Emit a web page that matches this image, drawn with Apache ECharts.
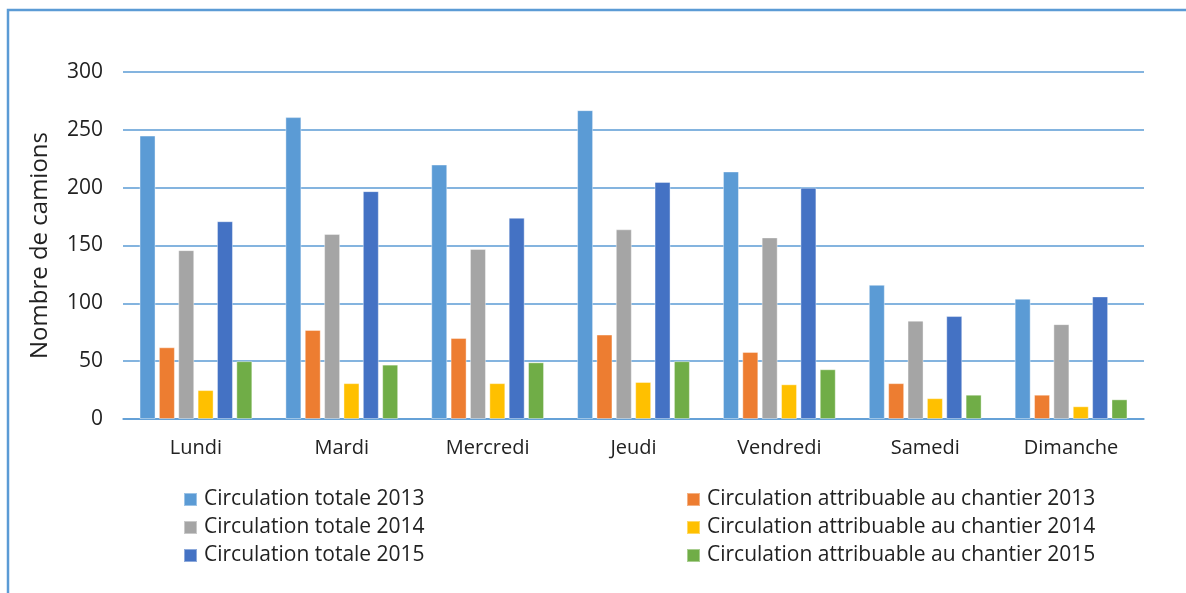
<!DOCTYPE html>
<html>
<head>
<meta charset="utf-8">
<script src="https://cdn.jsdelivr.net/npm/echarts@6/dist/echarts.min.js"></script>
<style>
  html, body { margin: 0; padding: 0; background: #fff; }
  #chart { width: 1186px; height: 593px; }
</style>
</head>
<body>
<div id="chart"></div>
<script>
const days = ['Lundi', 'Mardi', 'Mercredi', 'Jeudi', 'Vendredi', 'Samedi', 'Dimanche'];

const total2013 = [245, 261, 220, 267, 214, 116, 104];
const chantier2013 = [62, 77, 70, 73, 58, 31, 21];
const total2014 = [146, 160, 147, 164, 157, 85, 82];
const chantier2014 = [25, 31, 31, 32, 30, 18, 11];
const total2015 = [171, 197, 174, 205, 200, 89, 106];
const chantier2015 = [50, 47, 49, 50, 43, 21, 17];

const yTicks = { min: 0, max: 300, interval: 50 };

const font = 'Open Sans';
const textColor = '#222';
const lineBlue = '#5b9bd5';

const seriesDefs = [
  ['Circulation totale 2013', total2013, '#5b9bd5'],
  ['Circulation attribuable au chantier 2013', chantier2013, '#ed7d31'],
  ['Circulation totale 2014', total2014, '#a5a5a5'],
  ['Circulation attribuable au chantier 2014', chantier2014, '#ffc000'],
  ['Circulation totale 2015', total2015, '#4472c4'],
  ['Circulation attribuable au chantier 2015', chantier2015, '#70ad47']
];

const chart = echarts.init(document.getElementById('chart'));

const legendBase = {
  orient: 'vertical',
  top: 484,
  itemWidth: 13,
  itemHeight: 13,
  itemGap: 7,
  icon: 'rect',
  textStyle: { fontFamily: font, fontSize: 21, lineHeight: 21, color: textColor, padding: [0, 0, 0, 2] }
};

chart.setOption({
  animation: false,
  color: seriesDefs.map(s => s[2]),
  grid: { left: 123, right: 42, top: 72, bottom: 174 },
  graphic: [{
    type: 'rect',
    shape: { x: 8, y: 10, width: 1200, height: 620 },
    style: { fill: 'none', stroke: lineBlue, lineWidth: 2.5 },
    silent: true
  }],
  legend: [
    Object.assign({}, legendBase, { left: 178, data: [seriesDefs[0][0], seriesDefs[2][0], seriesDefs[4][0]] }),
    Object.assign({}, legendBase, { left: 681, data: [seriesDefs[1][0], seriesDefs[3][0], seriesDefs[5][0]] })
  ],
  xAxis: {
    type: 'category',
    data: days,
    axisLine: { lineStyle: { color: lineBlue, width: 1.5 } },
    axisTick: { show: false },
    axisLabel: { fontFamily: font, fontSize: 20, color: textColor, margin: 19 }
  },
  yAxis: {
    type: 'value',
    min: yTicks.min,
    max: yTicks.max,
    interval: yTicks.interval,
    name: 'Nombre de camions',
    nameLocation: 'middle',
    nameRotate: 90,
    nameGap: 71,
    nameTextStyle: { fontFamily: font, fontSize: 24, color: textColor },
    axisLine: { show: false },
    axisTick: { show: false },
    axisLabel: { fontFamily: font, fontSize: 21, color: textColor, margin: 20 },
    splitLine: { lineStyle: { color: lineBlue, width: 1.5 } }
  },
  series: seriesDefs.map(([name, values]) => ({
    name,
    type: 'bar',
    data: values,
    barWidth: 16,
    barGap: '21%',
    itemStyle: { borderColor: 'rgba(255,255,255,0.4)', borderWidth: 1 }
  }))
});
</script>
</body>
</html>
